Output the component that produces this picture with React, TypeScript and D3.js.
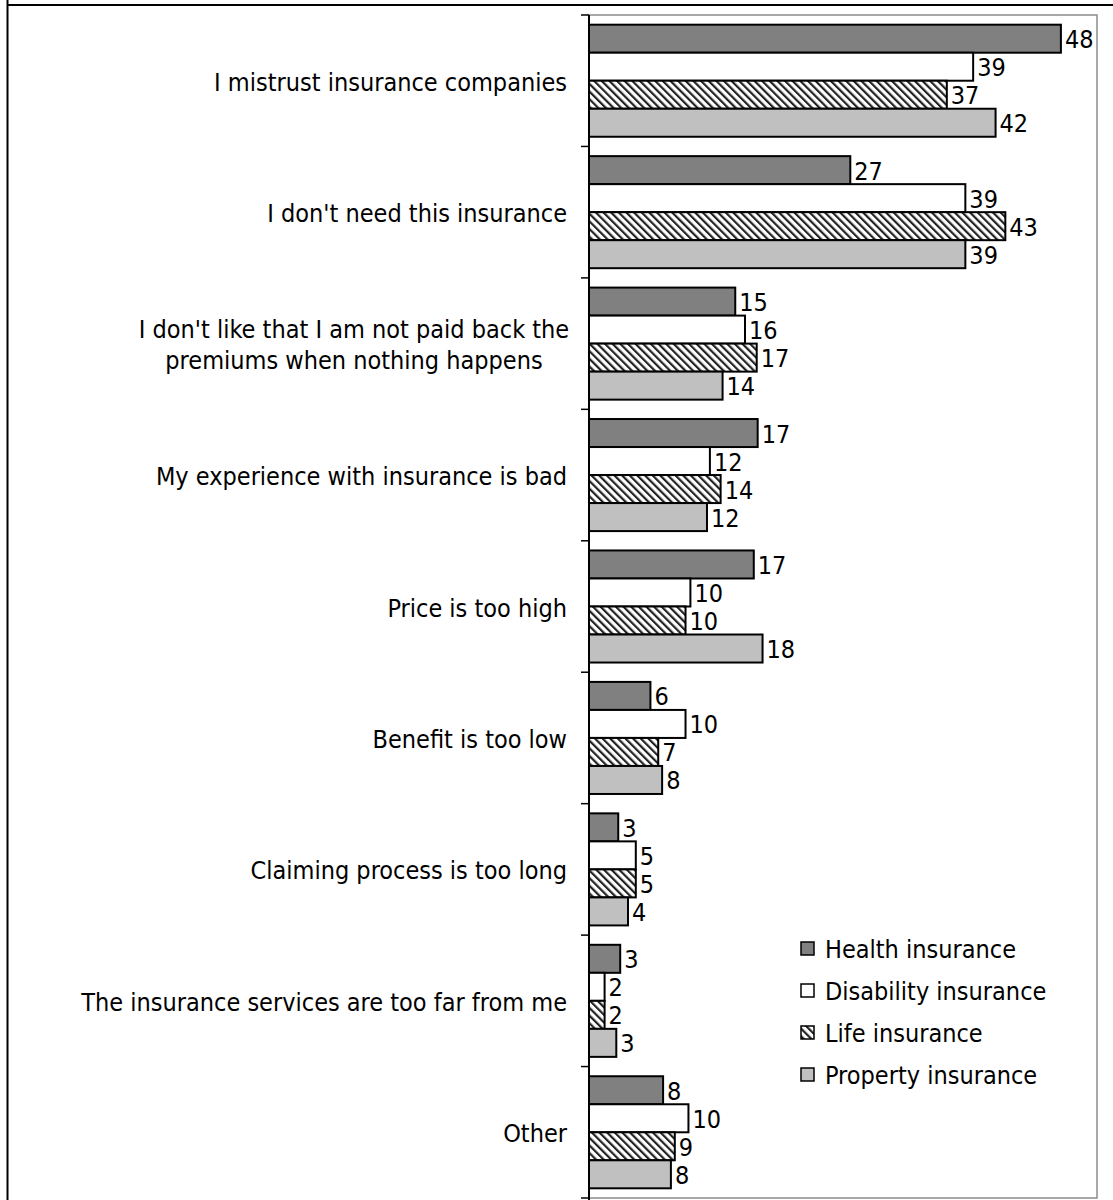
import React from "react";
import * as d3 from "d3";

const categories: string[][] = [
  ["I mistrust insurance companies"],
  ["I don't need this insurance"],
  ["I don't like that I am not paid back the", "premiums when nothing happens"],
  ["My experience with insurance is bad"],
  ["Price is too high"],
  ["Benefit is too low"],
  ["Claiming process is too long"],
  ["The insurance services are too far from me"],
  ["Other"],
];

const seriesNames = ["Health insurance", "Disability insurance", "Life insurance", "Property insurance"];
const health = [48.4, 26.8, 15.0, 17.3, 16.9, 6.3, 3.0, 3.2, 7.6];
const disability = [39.4, 38.6, 16.0, 12.4, 10.4, 9.9, 4.8, 1.6, 10.2];
const life = [36.7, 42.7, 17.2, 13.5, 9.9, 7.1, 4.8, 1.6, 8.8];
const property = [41.7, 38.6, 13.7, 12.1, 17.8, 7.5, 4.0, 2.8, 8.4];
const seriesValues = [health, disability, life, property];

const FONT = "'DejaVu Sans Condensed', 'DejaVu Sans', sans-serif";

export default function App() {
  const W = 1113, H = 1200;
  const x0 = 589, top = 15, bottom = 1198, right = 1097;
  const FS = 25;
  const x = d3.scaleLinear().domain([0, 10]).range([x0, x0 + 97.5]);
  const idx = categories.map((_, i) => i);
  const yBand = d3.scaleBand<number>().domain(idx).range([top, bottom]).padding(0);
  const inner = d3.scaleBand<number>().domain([0, 1, 2, 3]).range([0, yBand.bandwidth()]).paddingInner(0).paddingOuter(0.346);
  const fills = ["#808080", "#ffffff", "url(#hatch)", "#c0c0c0"];
  const fmt = d3.format("d");
  const ticks = [...idx.map((i) => yBand(i)!), bottom];
  const legendY = [949, 991, 1033, 1075];

  return (
    <div style={{ position: "absolute", left: 0, top: 0 }}>
      <svg width={W} height={H} style={{ display: "block", fontFamily: FONT }}>
        <defs>
          <pattern id="hatch" patternUnits="userSpaceOnUse" width={5.4} height={5.4} patternTransform="rotate(-45)">
            <rect width={5.4} height={5.4} fill="#ffffff" />
            <rect width={2.2} height={5.4} fill="#222" />
          </pattern>
        </defs>
        <rect x={0} y={0} width={W} height={H} fill="#ffffff" />
        {/* outer frame */}
        <line x1={7.5} y1={0} x2={7.5} y2={H} stroke="#000" strokeWidth={2} />
        <line x1={7} y1={5} x2={W} y2={5} stroke="#000" strokeWidth={2} />
        {/* plot area border */}
        <rect x={x0} y={top} width={right - x0} height={bottom - top} fill="none" stroke="#8c8c8c" strokeWidth={1.5} />
        {/* bars */}
        {idx.map((i) => (
          <g key={i}>
            {seriesValues.map((vals, s) => {
              const yy = yBand(i)! + inner(s)!;
              const h = inner.bandwidth();
              const xe = x(vals[i]);
              return (
                <g key={s}>
                  <rect x={x0} y={yy} width={xe - x0} height={h} fill={fills[s]} stroke="#000" strokeWidth={2} />
                  <text x={xe + 4} y={yy + h / 2 + 9.5} fontSize={FS} fill="#000">
                    {fmt(Math.round(vals[i]))}
                  </text>
                </g>
              );
            })}
          </g>
        ))}
        {/* axis */}
        <line x1={x0} y1={top} x2={x0} y2={H} stroke="#000" strokeWidth={2} />
        {ticks.map((t, k) => (
          <line key={k} x1={581} y1={t} x2={x0} y2={t} stroke="#000" strokeWidth={1.5} />
        ))}
        {/* category labels */}
        {idx.map((i) => {
          const lines = categories[i];
          const cy = yBand(i)! + yBand.bandwidth() / 2;
          const lh = 31;
          if (lines.length === 1) {
            return (
              <text key={i} x={567} y={cy + 10} fontSize={FS} textAnchor="end" fill="#000">
                {lines[0]}
              </text>
            );
          }
          const cx = 354;
          return (
            <text key={i} fontSize={FS} textAnchor="middle" fill="#000">
              {lines.map((l, j) => (
                <tspan key={j} x={cx} y={cy + 10 + (j - (lines.length - 1) / 2) * lh}>
                  {l}
                </tspan>
              ))}
            </text>
          );
        })}
        {/* legend */}
        {seriesNames.map((n, s) => (
          <g key={n}>
            <rect x={801} y={legendY[s] - 7} width={13} height={13} fill={fills[s]} stroke="#000" strokeWidth={1.5} />
            <text x={825} y={legendY[s] + 9} fontSize={FS} fill="#000">
              {n}
            </text>
          </g>
        ))}
      </svg>
    </div>
  );
}
